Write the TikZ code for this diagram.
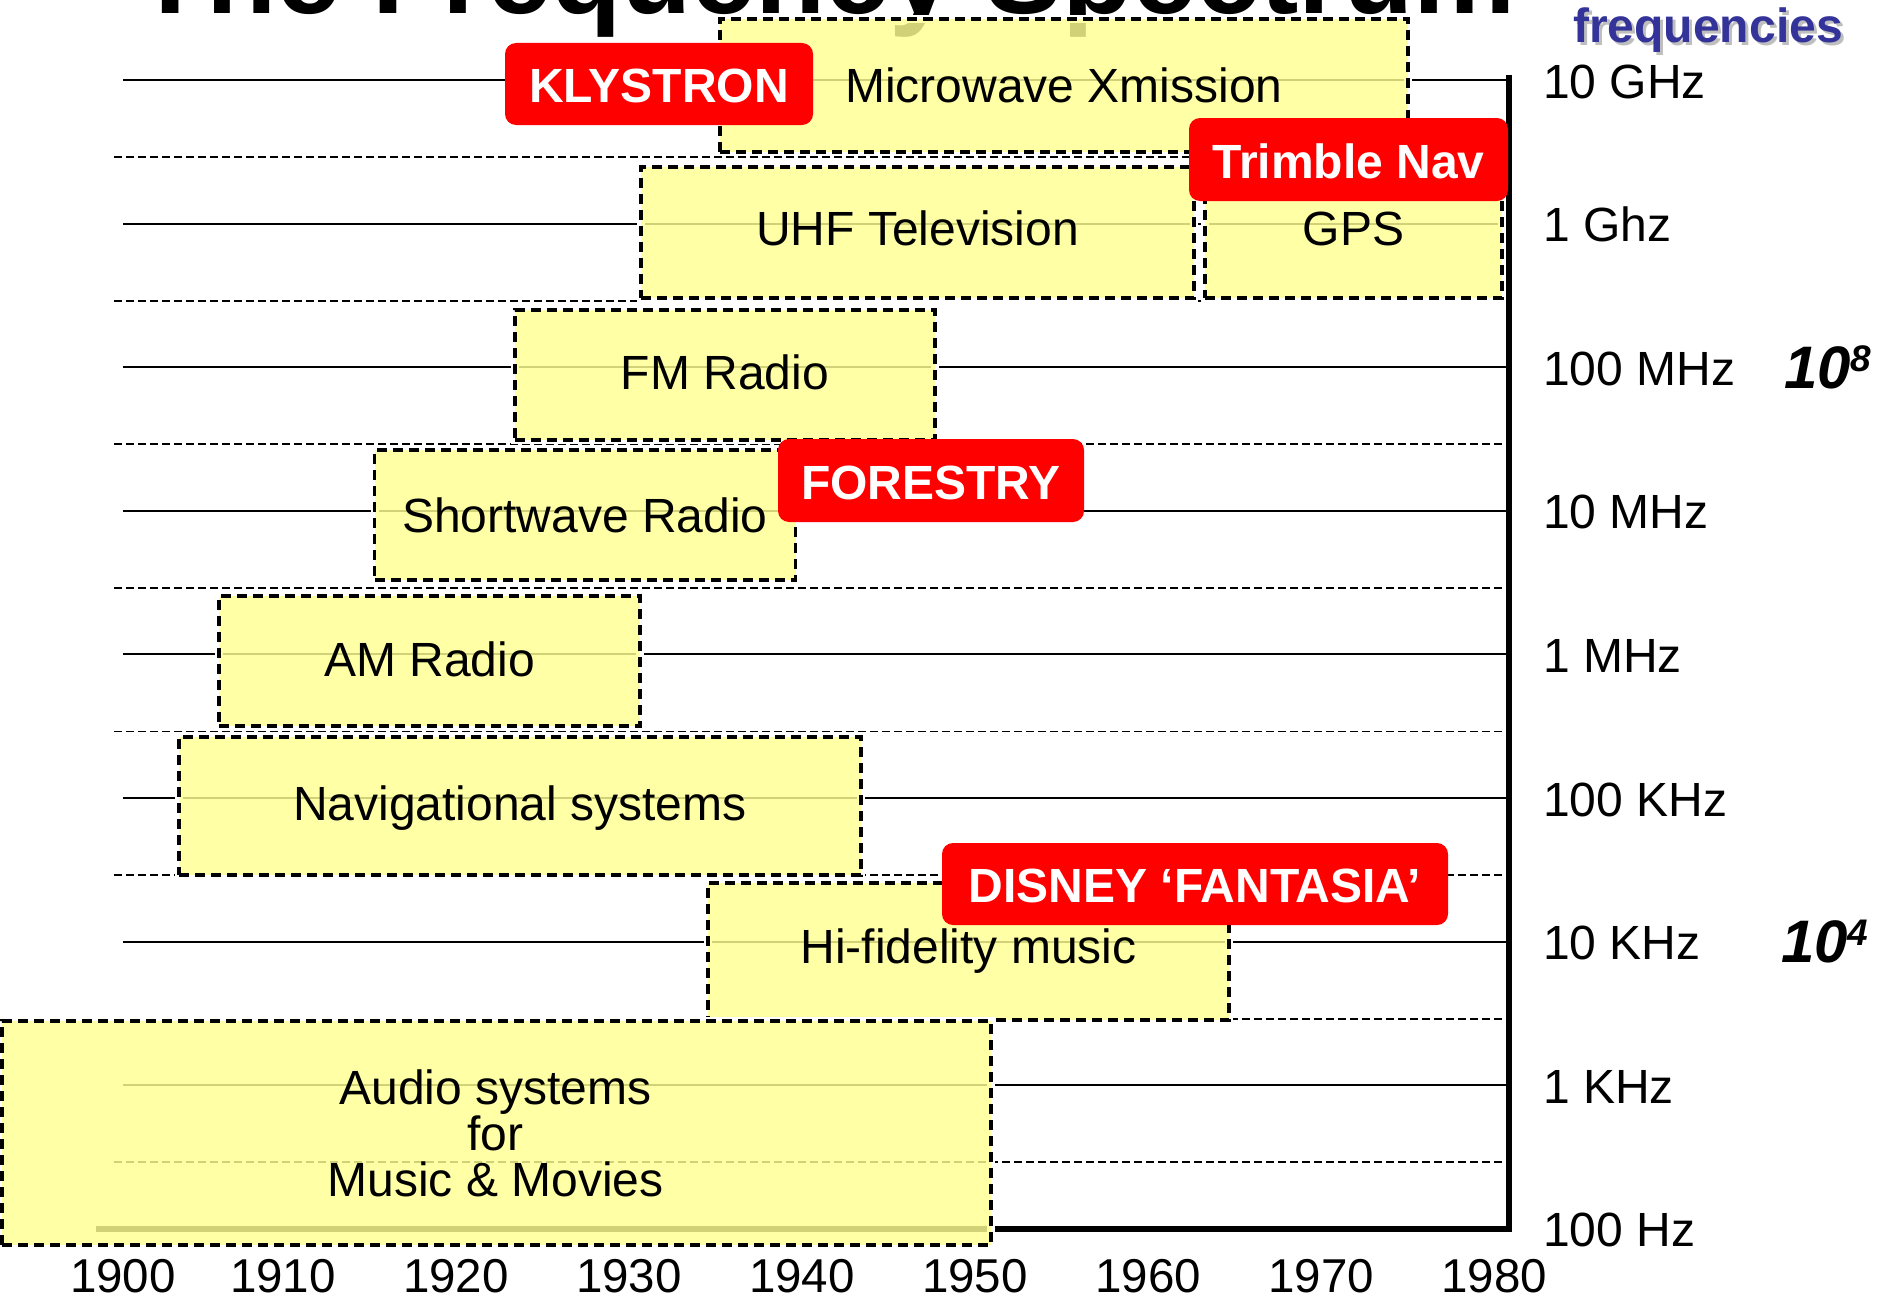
\documentclass[tikz,border=0pt]{standalone}
\usepackage{fontspec}
\setmainfont{Liberation Sans}
\usetikzlibrary{positioning}
\definecolor{bandFill}{RGB}{255,255,146}
\definecolor{tagRed}{RGB}{255,0,0}
\definecolor{freqBlue}{RGB}{51,51,153}
\definecolor{shadowGray}{RGB}{190,190,190}
\newcommand{\bandfont}{\fontsize{48}{46}\selectfont}
\tikzset{
    band_box/.style={
        rectangle,
        inner sep=0pt,
        draw=black,
        line width=3.3pt,
        dash pattern=on 10pt off 6pt,
        fill=bandFill,
        fill opacity=0.82,
        preaction={draw=white, solid, line width=8pt}
    },
    band_text/.style={
        font=\bandfont,
        anchor=base,
        yshift=-22pt,
        inner sep=0pt
    },
    tag_box/.style={
        fill=tagRed,
        rounded corners=11pt,
        text=white,
        font=\bandfont\bfseries,
        inner sep=0pt,
        text height=37pt,
        text depth=0pt
    },
    freq_label/.style={
        font=\bandfont,
        anchor=base west,
        yshift=-18pt,
        inner sep=0pt
    },
    year_label/.style={
        font=\fontsize{47.5}{47.5}\selectfont,
        anchor=base,
        inner sep=0pt
    },
    exp_label/.style={
        font=\fontsize{60}{60}\selectfont\bfseries\itshape,
        anchor=base west,
        yshift=-21pt,
        inner sep=0pt
    },
    level_line/.style={line width=2pt},
    grid_line/.style={line width=1.8pt, dash pattern=on 8pt off 4pt},
    axis_line/.style={line width=6pt, line join=miter}
}

\begin{document}
\begin{tikzpicture}[x=1pt, y=-1pt]
    \useasboundingbox (0,0) rectangle (1886,1298);
    \clip (0,0) rectangle (1886,1298);

    % title, cut by the top edge
    \node[font=\fontsize{115}{115}\selectfont\bfseries, anchor=base, inner sep=0pt] (title) at (826,14) {The Frequency Spectrum};

    % grid
    \foreach \i in {0,...,7} {
        \coordinate (gl\i) at (114,{157+143.6*\i});
        \coordinate (gr\i) at (1503,{157+143.6*\i});
        \draw[grid_line] (gl\i) -- (gr\i);
        \coordinate (lvl\i) at (123,{80+143.6*\i});
        \coordinate (axis\i) at (1509,{80+143.6*\i});
        \draw[level_line] (lvl\i) -- (axis\i);
    }
    \coordinate (axtop) at (1509,75);
    \coordinate (axbot) at (1509,1229);
    \coordinate (base) at (96,1229);
    \draw[axis_line] (axtop) -- (axbot) -- (base);

    % bands
    \node[band_box, minimum width=688pt, minimum height=133pt] (microbox) at (1064,85.5) {};
    \node[band_box, minimum width=553pt, minimum height=131pt] (uhfbox) at (917.5,232.5) {};
    \node[band_box, minimum width=297pt, minimum height=131pt] (gpsbox) at (1353.5,232.5) {};
    \node[band_box, minimum width=420pt, minimum height=130pt] (fmbox) at (725,375) {};
    \node[band_box, minimum width=421pt, minimum height=130pt] (swbox) at (585,515) {};
    \node[band_box, minimum width=421pt, minimum height=130pt] (ambox) at (429.5,661) {};
    \node[band_box, minimum width=682pt, minimum height=138pt] (navbox) at (520,806) {};
    \node[band_box, minimum width=521pt, minimum height=137pt] (hifibox) at (968.5,951.5) {};
    \node[band_box, minimum width=989pt, minimum height=224pt] (audiobox) at (496.5,1133) {};

    \node[band_text] (micro) at (microbox |- lvl0) {Microwave Xmission};
    \node[band_text] (uhf) at (uhfbox |- lvl1) {UHF Television};
    \node[band_text] (gps) at (gpsbox |- lvl1) {GPS};
    \node[band_text] (fm) at (fmbox |- lvl2) {FM Radio};
    \node[band_text] (sw) at (swbox |- lvl3) {Shortwave Radio};
    \node[band_text] (am) at (ambox |- lvl4) {AM Radio};
    \node[band_text] (nav) at (navbox |- lvl5) {Navigational systems};
    \node[band_text] (hifi) at (hifibox |- lvl6) {Hi-fidelity music};
    \node[font=\bandfont, align=center, inner sep=0pt] (audio) at (495.5,1133) {Audio systems\\for\\Music \& Movies};

    % red tags
    \node[tag_box, minimum width=308pt, minimum height=82pt] (klystron) at (659,84) {KLYSTRON};
    \node[tag_box, minimum width=319pt, minimum height=83pt] (trimble) at (1348.5,159.5) {Trimble Nav};
    \node[tag_box, minimum width=306pt, minimum height=83pt] (forestry) at (931,480.5) {FORESTRY};
    \node[tag_box, minimum width=506pt, minimum height=82pt] (disney) at (1195,884) {DISNEY `FANTASIA'};

    % frequency scale
    \foreach \i/\f in {0/10 GHz, 1/1 Ghz, 2/100 MHz, 3/10 MHz, 4/1 MHz, 5/100 KHz, 6/10 KHz, 7/1 KHz, 8/100 Hz}
        \node[freq_label] (f\i) at (1543,{80+143.6*\i}) {\f};
    \node[exp_label] (expeight) at (1784,367.2) {10\raisebox{17pt}{\fontsize{37}{37}\selectfont 8}};
    \node[exp_label] (expfour) at (1781,941.6) {10\raisebox{17pt}{\fontsize{37}{37}\selectfont 4}};
    \node[font=\bandfont\bfseries, text=shadowGray, anchor=base, inner sep=0pt] (freqshadow) at (1711,46) {frequencies};
    \node[font=\bandfont\bfseries, text=freqBlue, anchor=base, inner sep=0pt] (freq) at (1708,43) {frequencies};

    % years
    \foreach \yr/\x in {1900/123, 1910/283, 1920/456, 1930/629, 1940/802, 1950/975, 1960/1148, 1970/1321, 1980/1494}
        \node[year_label] (y\yr) at (\x,1292) {\yr};
\end{tikzpicture}
\end{document}
